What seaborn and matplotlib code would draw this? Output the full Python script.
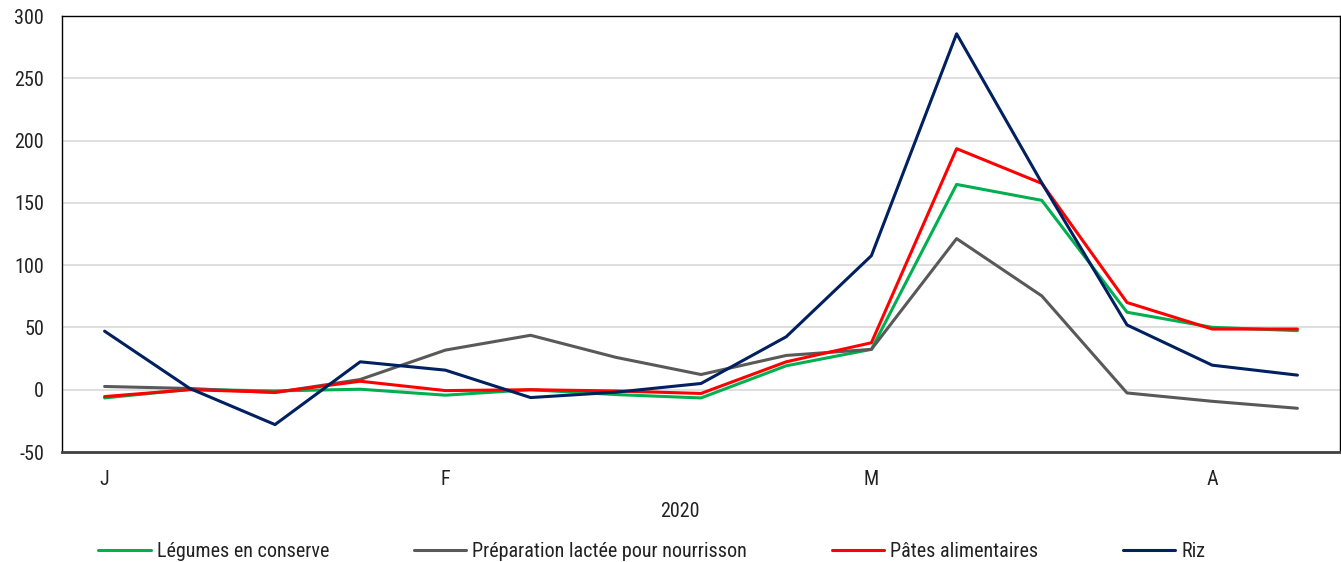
import numpy as np
import pandas as pd
import seaborn as sns
import matplotlib.pyplot as plt
from matplotlib import font_manager

# Weekly index values, January to April 2020
legumes = [-6.6, 0.3, -1, 0.4, -4.4, 0, -3.9, -6.6, 19.2, 32.4, 164.8, 152, 62.2, 50.1, 47.4]
preparation = [2.6, 1, -2.3, 8.2, 31.8, 43.7, 26, 12.2, 27.5, 32.4, 121.3, 75.3, -2.6, -9.3, -14.9]
pates = [-5.5, 0, -2, 6.8, -0.7, 0, -1, -3, 22.4, 37.7, 193.5, 165.6, 70, 48.7, 48.7]
riz = [47, 1, -28, 22.4, 15.7, -6.3, -2, 5, 42.5, 107.6, 285.7, 166, 52, 19.7, 11.7]

series_names = ["Légumes en conserve", "Préparation lactée pour nourrisson",
                "Pâtes alimentaires", "Riz"]
month_labels = ["J", "F", "M", "A"]
month_positions = [0, 4, 9, 13]
year_label = "2020"
y_ticks = [-50, 0, 50, 100, 150, 200, 250, 300]

colors = ["#00B050", "#595959", "#FF0000", "#002060"]

frames = []
for name, vals in zip(series_names, [legumes, preparation, pates, riz]):
    frames.append(pd.DataFrame({"week": np.arange(len(vals)), "value": vals, "série": name}))
df = pd.concat(frames, ignore_index=True)

sns.set_theme(style="white")
available = {f.name for f in font_manager.fontManager.ttflist}
family = [f for f in ["Liberation Sans Narrow", "Roboto Condensed", "Roboto", "DejaVu Sans"] if f in available]
plt.rcParams["font.family"] = family

fig = plt.figure(figsize=(13.41, 5.62), dpi=100)
ax = fig.add_axes([62 / 1341, 1 - 452 / 562, (1340 - 62) / 1341, (452 - 16) / 562])

sns.lineplot(data=df, x="week", y="value", hue="série", palette=colors,
             hue_order=series_names, linewidth=2.2, ax=ax, legend=True)

ax.set_xlim(-0.5, 14.5)
ax.set_ylim(-50, 300)
ax.set_yticks(y_ticks)
ax.set_yticklabels([str(v) for v in y_ticks], fontsize=14.5, color="#222222")
ax.set_xticks(month_positions)
ax.set_xticklabels(month_labels, fontsize=14.5, color="#222222")
ax.tick_params(axis="both", length=0)
ax.tick_params(axis="x", pad=13)
ax.tick_params(axis="y", pad=13)
ax.set_xlabel(year_label, fontsize=14.5, color="#222222")
ax.xaxis.set_label_coords(0.4836, -0.115)
ax.set_ylabel("")
ax.yaxis.grid(True, color="#D9D9D9", linewidth=1.2)
ax.set_axisbelow(True)

for side in ["left", "top", "right"]:
    ax.spines[side].set_color("#000000")
    ax.spines[side].set_linewidth(1.0)
ax.spines["bottom"].set_color("#404040")
ax.spines["bottom"].set_linewidth(2.0)

handles, labels = ax.get_legend_handles_labels()
ax.get_legend().remove()
fig.legend(handles, labels, loc="lower center", bbox_to_anchor=(0.486, -0.03), ncol=4,
           frameon=False, fontsize=14.5, handlelength=2.6, handletextpad=0.3,
           columnspacing=4.2, labelcolor="#222222")

fig.savefig("out.png", dpi=100)
